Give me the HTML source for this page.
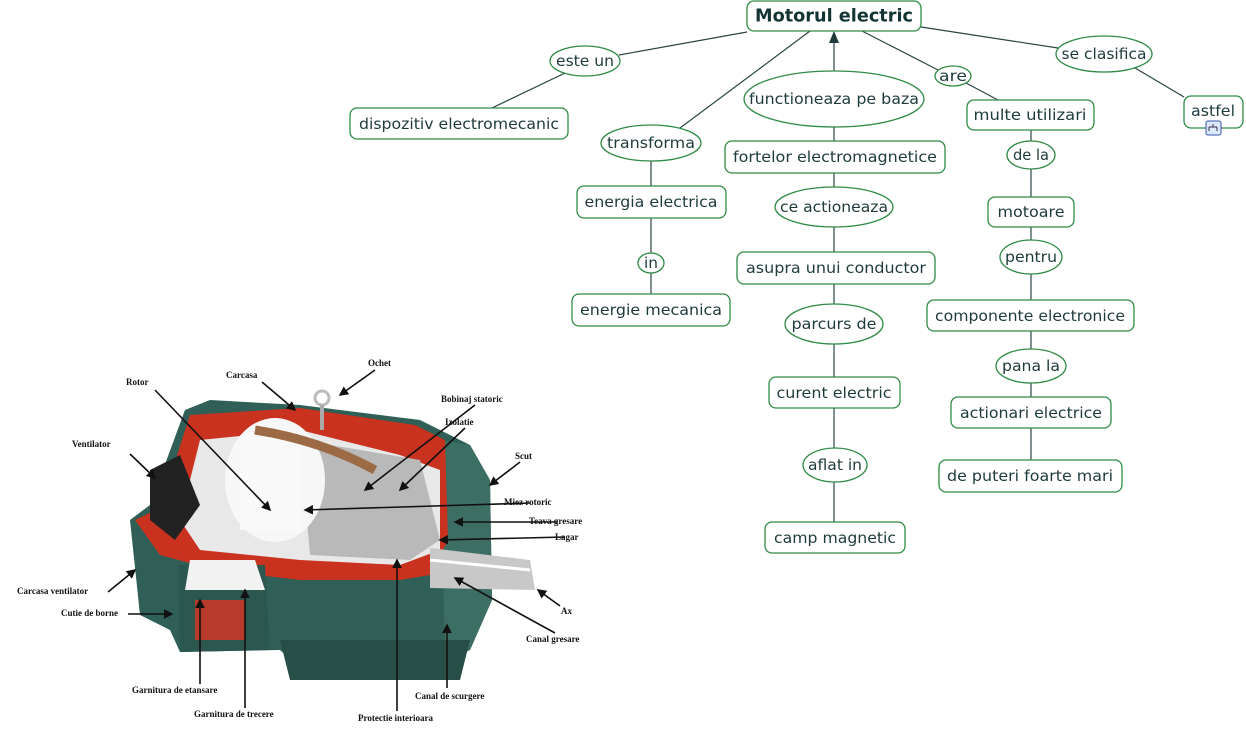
<!DOCTYPE html>
<html><head><meta charset="utf-8"><style>
html,body{margin:0;padding:0;background:#fff;}
svg{display:block;}
.n rect{fill:#fff;stroke:#2e8b45;stroke-width:1.3;}
.n ellipse{fill:#fff;stroke:#2e8b45;stroke-width:1.3;}
.t{font-family:"DejaVu Sans","Liberation Sans",sans-serif;font-size:15px;fill:#1e3a3a;text-anchor:middle;dominant-baseline:central;}
.l{stroke:#2a4444;stroke-width:1.2;fill:none;}
.m{font-family:"Liberation Serif",serif;font-size:9px;font-weight:bold;fill:#111;}
.a{stroke:#111;stroke-width:1.6;fill:none;marker-end:url(#ah);}
</style></head><body>
<svg width="1246" height="736" viewBox="0 0 1246 736" xmlns="http://www.w3.org/2000/svg">
<defs>
<marker id="ah" markerWidth="6" markerHeight="6" refX="5" refY="3" orient="auto"><path d="M0,0 L6,3 L0,6z" fill="#111"/></marker>
</defs>
<!-- connectors -->
<g class="l">
<line x1="747" y1="32" x2="619" y2="55"/>
<line x1="565" y1="73" x2="492" y2="108"/>
<line x1="810" y1="31" x2="680" y2="128"/>
<line x1="651" y1="161" x2="651" y2="186"/>
<line x1="651" y1="218" x2="651" y2="253"/>
<line x1="651" y1="273" x2="651" y2="294"/>
<line x1="834" y1="72" x2="834" y2="42"/>
<line x1="834" y1="127" x2="834" y2="141"/>
<line x1="834" y1="173" x2="834" y2="187"/>
<line x1="834" y1="227" x2="834" y2="252"/>
<line x1="834" y1="284" x2="834" y2="304"/>
<line x1="834" y1="344" x2="834" y2="377"/>
<line x1="834" y1="408" x2="834" y2="448"/>
<line x1="834" y1="482" x2="834" y2="522"/>
<line x1="862" y1="31" x2="938" y2="70"/>
<line x1="966" y1="83" x2="998" y2="100"/>
<line x1="1031" y1="130" x2="1031" y2="141"/>
<line x1="1031" y1="169" x2="1031" y2="197"/>
<line x1="1031" y1="227" x2="1031" y2="240"/>
<line x1="1031" y1="274" x2="1031" y2="300"/>
<line x1="1031" y1="331" x2="1031" y2="349"/>
<line x1="1031" y1="383" x2="1031" y2="397"/>
<line x1="1031" y1="428" x2="1031" y2="460"/>
<line x1="921" y1="27" x2="1058" y2="48"/>
<line x1="1135" y1="68" x2="1184" y2="97"/>
</g>
<path d="M834,31 L829,43 L839,43z" fill="#1e3a3a"/>
<!-- concept boxes -->
<g class="n">
<rect x="747" y="1" width="174" height="30" rx="7"/>
<rect x="350" y="108" width="218" height="31" rx="7"/>
<rect x="577" y="186" width="149" height="32" rx="7"/>
<rect x="572" y="294" width="158" height="32" rx="7"/>
<rect x="725" y="141" width="220" height="32" rx="7"/>
<rect x="737" y="252" width="198" height="32" rx="7"/>
<rect x="769" y="377" width="131" height="31" rx="7"/>
<rect x="765" y="522" width="140" height="31" rx="7"/>
<rect x="967" y="100" width="127" height="30" rx="7"/>
<rect x="988" y="197" width="86" height="30" rx="7"/>
<rect x="927" y="300" width="207" height="31" rx="7"/>
<rect x="951" y="397" width="160" height="31" rx="7"/>
<rect x="939" y="460" width="183" height="32" rx="7"/>
<rect x="1184" y="96" width="59" height="32" rx="7"/>
<ellipse cx="585" cy="61" rx="35" ry="15"/>
<ellipse cx="651" cy="143" rx="50" ry="18"/>
<ellipse cx="651" cy="263" rx="13" ry="10"/>
<ellipse cx="834" cy="99" rx="90" ry="28"/>
<ellipse cx="834" cy="207" rx="59" ry="20"/>
<ellipse cx="834" cy="324" rx="49" ry="20"/>
<ellipse cx="835" cy="465" rx="32" ry="17"/>
<ellipse cx="953" cy="76" rx="18" ry="10"/>
<ellipse cx="1031" cy="155" rx="24" ry="14"/>
<ellipse cx="1031" cy="257" rx="31" ry="17"/>
<ellipse cx="1031" cy="366" rx="35" ry="17"/>
<ellipse cx="1104" cy="54" rx="48" ry="18"/>
</g>
<!-- icon -->
<rect x="1206" y="121" width="15" height="14" rx="2" fill="#dde8ff" stroke="#3355aa"/>
<path d="M1213,124v3M1209,127h8M1209,127v4M1217,127v4" stroke="#334" fill="none"/>
<!-- labels -->
<text class="t" x="834" y="16" textLength="158" lengthAdjust="spacingAndGlyphs" style="font-weight:bold;font-size:18px;fill:#123434">Motorul electric</text>
<text class="t" x="459" y="124" textLength="200" lengthAdjust="spacingAndGlyphs">dispozitiv electromecanic</text>
<text class="t" x="651" y="202" textLength="133" lengthAdjust="spacingAndGlyphs">energia electrica</text>
<text class="t" x="651" y="310" textLength="142" lengthAdjust="spacingAndGlyphs">energie mecanica</text>
<text class="t" x="835" y="157" textLength="204" lengthAdjust="spacingAndGlyphs">fortelor electromagnetice</text>
<text class="t" x="836" y="268" textLength="180" lengthAdjust="spacingAndGlyphs">asupra unui conductor</text>
<text class="t" x="834" y="393" textLength="115" lengthAdjust="spacingAndGlyphs">curent electric</text>
<text class="t" x="835" y="538" textLength="122" lengthAdjust="spacingAndGlyphs">camp magnetic</text>
<text class="t" x="1030" y="115" textLength="113" lengthAdjust="spacingAndGlyphs">multe utilizari</text>
<text class="t" x="1031" y="212" textLength="67" lengthAdjust="spacingAndGlyphs">motoare</text>
<text class="t" x="1030" y="316" textLength="190" lengthAdjust="spacingAndGlyphs">componente electronice</text>
<text class="t" x="1031" y="413" textLength="142" lengthAdjust="spacingAndGlyphs">actionari electrice</text>
<text class="t" x="1030" y="476" textLength="166" lengthAdjust="spacingAndGlyphs">de puteri foarte mari</text>
<text class="t" x="1213" y="111" textLength="44" lengthAdjust="spacingAndGlyphs">astfel</text>
<text class="t" x="585" y="61" textLength="58" lengthAdjust="spacingAndGlyphs">este un</text>
<text class="t" x="651" y="143" textLength="88" lengthAdjust="spacingAndGlyphs">transforma</text>
<text class="t" x="651" y="263" textLength="14" lengthAdjust="spacingAndGlyphs">in</text>
<text class="t" x="834" y="99" textLength="170" lengthAdjust="spacingAndGlyphs">functioneaza pe baza</text>
<text class="t" x="834" y="207" textLength="108" lengthAdjust="spacingAndGlyphs">ce actioneaza</text>
<text class="t" x="834" y="324" textLength="85" lengthAdjust="spacingAndGlyphs">parcurs de</text>
<text class="t" x="835" y="465" textLength="54" lengthAdjust="spacingAndGlyphs">aflat in</text>
<text class="t" x="953" y="76" textLength="28" lengthAdjust="spacingAndGlyphs">are</text>
<text class="t" x="1031" y="155" textLength="36" lengthAdjust="spacingAndGlyphs">de la</text>
<text class="t" x="1031" y="257" textLength="52" lengthAdjust="spacingAndGlyphs">pentru</text>
<text class="t" x="1031" y="366" textLength="58" lengthAdjust="spacingAndGlyphs">pana la</text>
<text class="t" x="1104" y="54" textLength="85" lengthAdjust="spacingAndGlyphs">se clasifica</text>

<!-- motor illustration -->
<g>
<!-- main body -->
<path d="M130,520 L150,505 L185,410 L210,400 L300,405 L420,420 L470,445 L490,480 L492,600 L470,650 L440,665 L300,668 L280,650 L180,652 L170,630 L140,615 Z" fill="#2f5f56"/>
<!-- end shield right -->
<path d="M440,440 L470,445 L490,480 L492,600 L470,650 L445,655 Z" fill="#3d6e63"/>
<!-- red cutaway -->
<path d="M135,520 L160,508 L190,415 L300,408 L415,425 L445,440 L448,540 L430,575 L400,580 L300,580 L215,570 L160,555 Z" fill="#c8321f"/>
<!-- interior cavity white/grey -->
<path d="M200,440 L300,430 L400,455 L440,470 L440,550 L400,565 L300,560 L200,550 L180,520 Z" fill="#e8e8e8"/>
<path d="M300,440 L420,460 L440,540 L410,560 L310,555 Z" fill="#b9b9b9"/>
<!-- rotor white -->
<ellipse cx="275" cy="480" rx="50" ry="62" fill="#f7f7f7"/>
<rect x="240" y="435" width="60" height="95" fill="#f9f9f9"/>
<!-- winding -->
<path d="M255,430 Q320,440 375,470" stroke="#9c6b45" stroke-width="9" fill="none"/>
<!-- fan area black -->
<path d="M150,470 L180,455 L200,505 L175,540 L150,520 Z" fill="#222"/>
<!-- shaft -->
<path d="M430,548 L530,560 L535,590 L430,588 Z" fill="#c8c8c8"/>
<path d="M430,560 L530,570" stroke="#fff" stroke-width="3"/>
<!-- terminal box -->
<path d="M178,565 L265,565 L270,650 L180,652 Z" fill="#2b574f"/>
<path d="M190,560 L255,560 L265,590 L185,590 Z" fill="#f2f2f2"/>
<rect x="195" y="600" width="50" height="40" fill="#b83a2a"/>
<!-- base/feet -->
<path d="M280,640 L470,640 L460,680 L290,680 Z" fill="#284f47"/>
<!-- eyebolt -->
<circle cx="322" cy="398" r="7" fill="none" stroke="#bbb" stroke-width="3"/>
<rect x="320" y="405" width="4" height="25" fill="#aaa"/>
</g>
<!-- pointers -->
<g class="a">
<line x1="375" y1="370" x2="340" y2="395"/>
<line x1="262" y1="382" x2="295" y2="410"/>
<line x1="155" y1="390" x2="270" y2="510"/>
<line x1="475" y1="405" x2="365" y2="490"/>
<line x1="465" y1="428" x2="400" y2="490"/>
<line x1="130" y1="454" x2="155" y2="478"/>
<line x1="520" y1="462" x2="490" y2="485"/>
<line x1="530" y1="503" x2="305" y2="510"/>
<line x1="558" y1="522" x2="455" y2="522"/>
<line x1="565" y1="537" x2="440" y2="540"/>
<line x1="108" y1="592" x2="135" y2="570"/>
<line x1="128" y1="614" x2="172" y2="614"/>
<line x1="560" y1="606" x2="538" y2="590"/>
<line x1="555" y1="633" x2="455" y2="578"/>
<line x1="200" y1="684" x2="200" y2="600"/>
<line x1="245" y1="708" x2="245" y2="590"/>
<line x1="397" y1="711" x2="397" y2="560"/>
<line x1="447" y1="688" x2="447" y2="625"/>
</g>
<g class="m">
<text x="368" y="366">Ochet</text>
<text x="226" y="378">Carcasa</text>
<text x="126" y="385">Rotor</text>
<text x="441" y="402">Bobinaj statoric</text>
<text x="445" y="425">Izolatie</text>
<text x="72" y="447">Ventilator</text>
<text x="515" y="459">Scut</text>
<text x="504" y="505">Miez rotoric</text>
<text x="529" y="524">Teava gresare</text>
<text x="555" y="540">Lagar</text>
<text x="17" y="594">Carcasa ventilator</text>
<text x="61" y="616">Cutie de borne</text>
<text x="561" y="614">Ax</text>
<text x="526" y="642">Canal gresare</text>
<text x="132" y="693">Garnitura de etansare</text>
<text x="194" y="717">Garnitura de trecere</text>
<text x="415" y="699">Canal de scurgere</text>
<text x="358" y="721">Protectie interioara</text>
</g>
</svg>
</body></html>
